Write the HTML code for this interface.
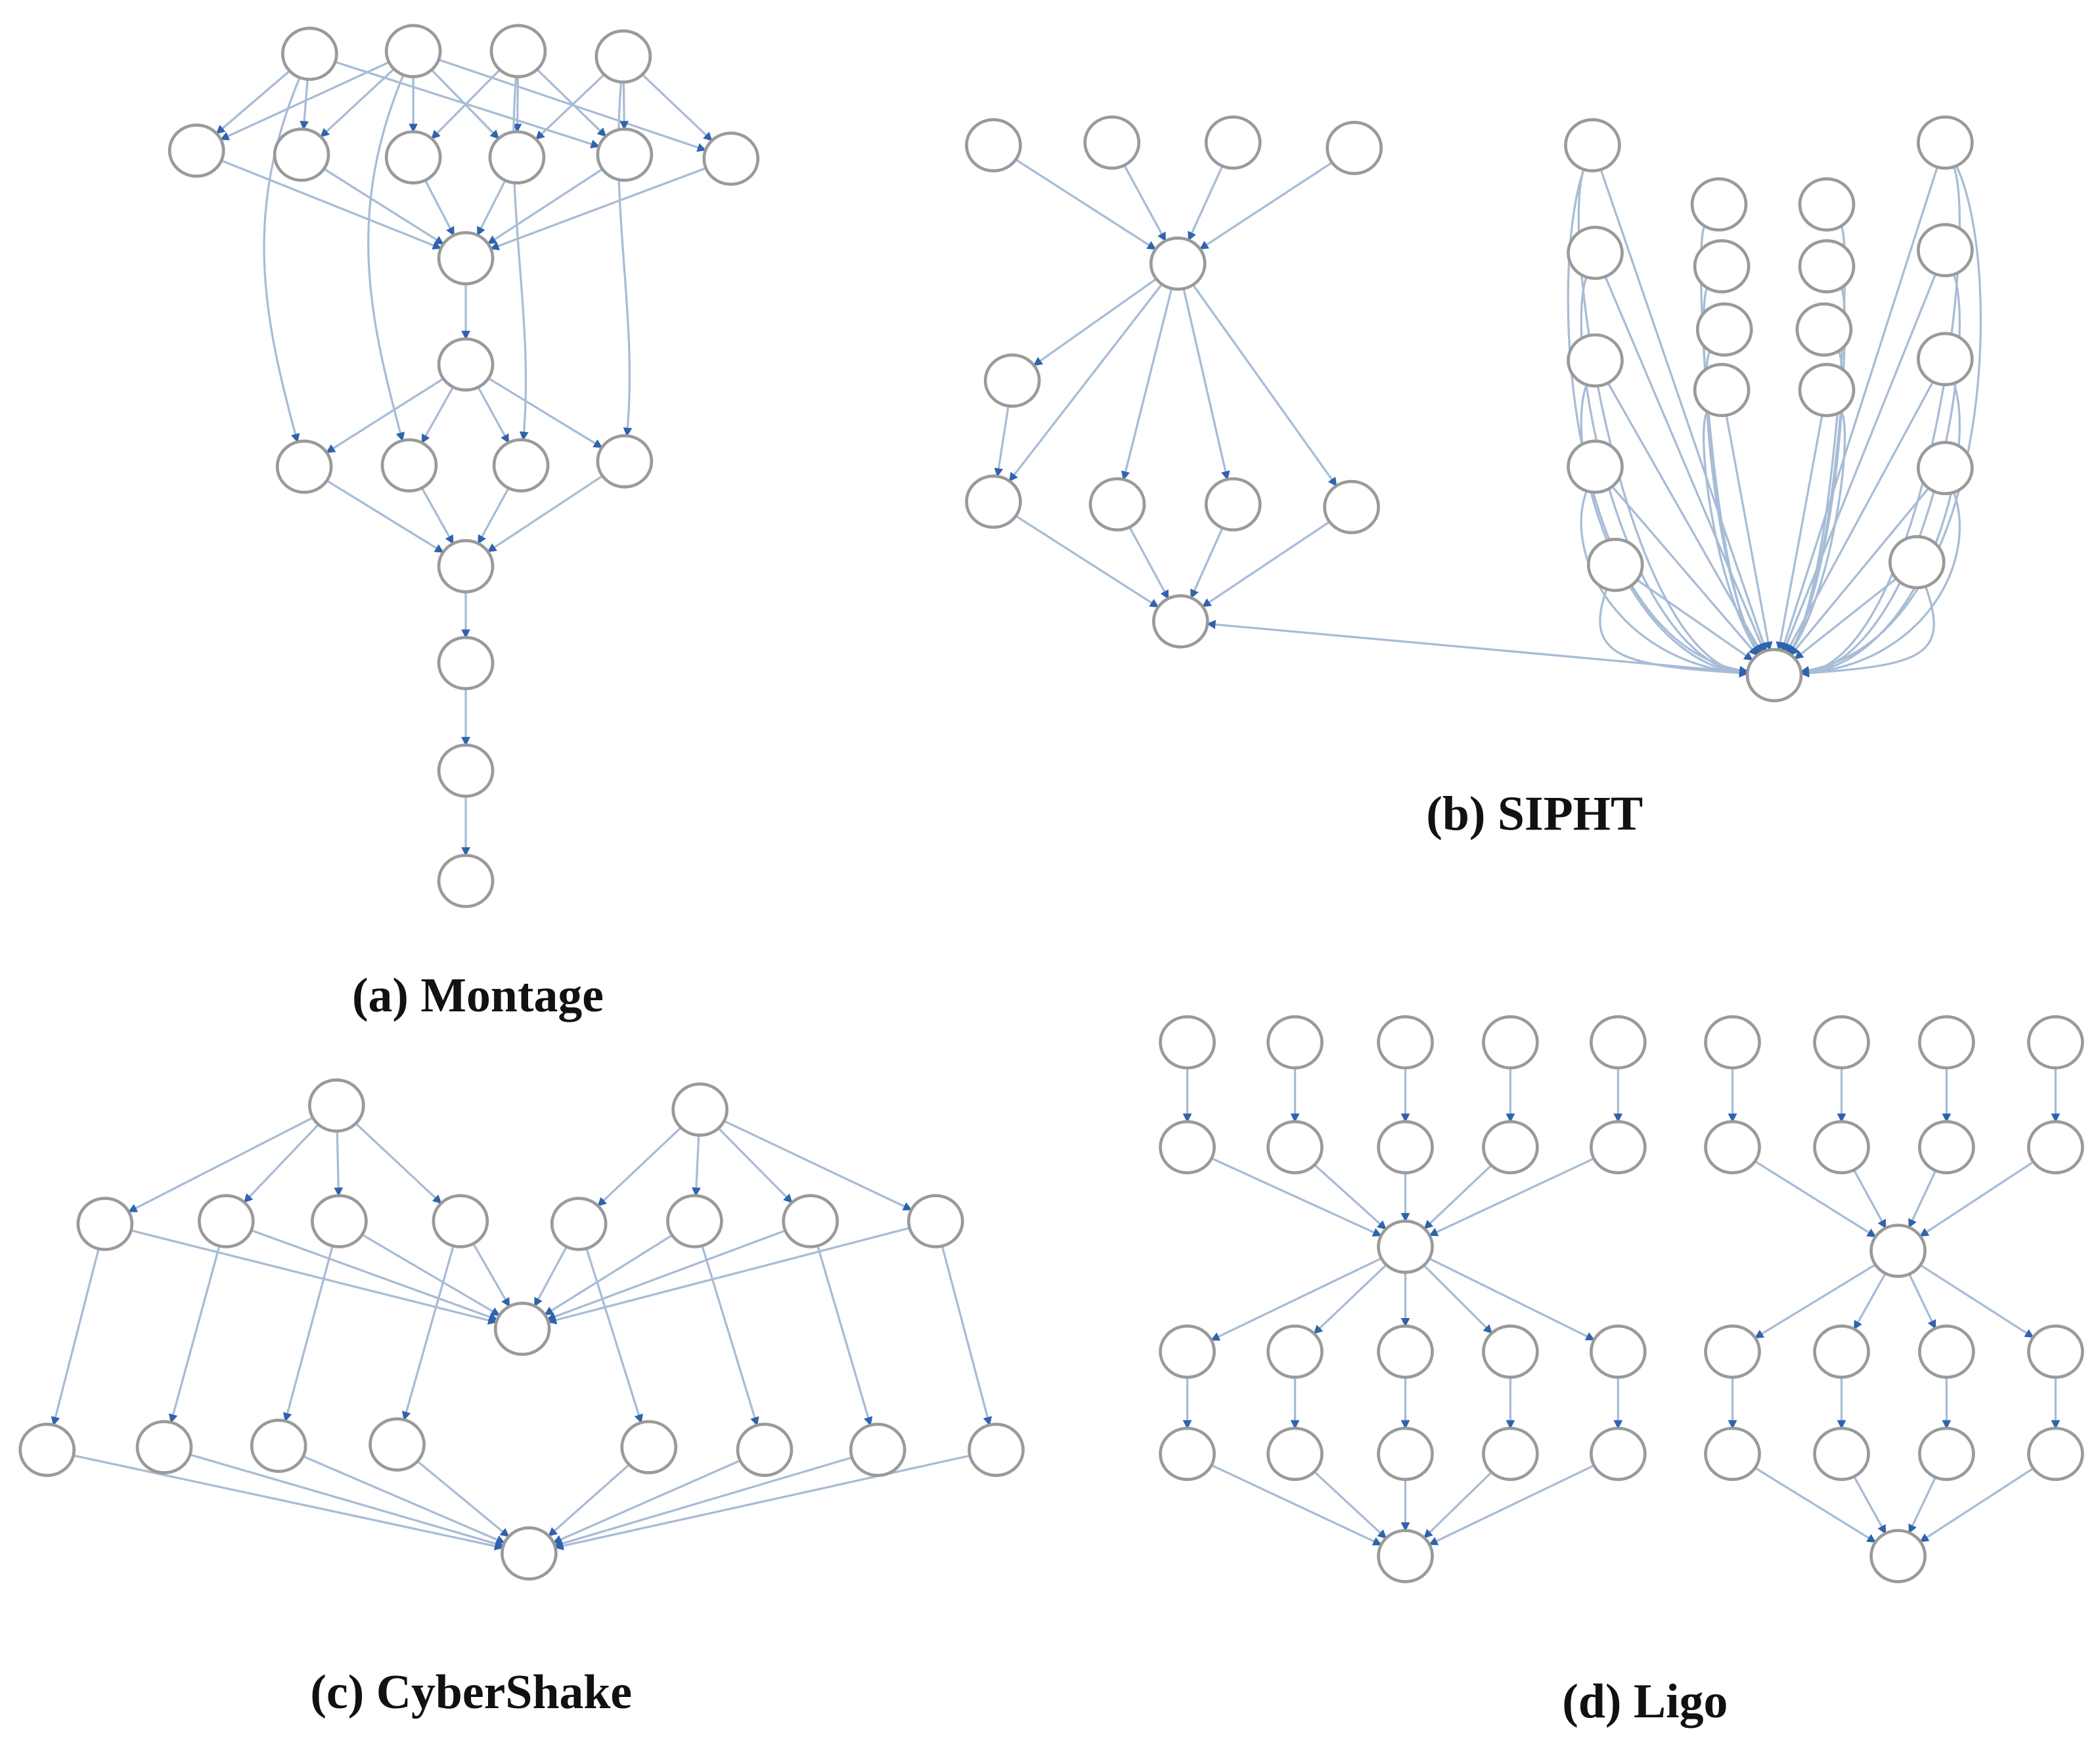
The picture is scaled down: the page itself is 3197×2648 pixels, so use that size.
<!DOCTYPE html>
<html><head><meta charset="utf-8"><style>
html,body{margin:0;padding:0;background:#fff;}
svg{display:block;}
text{font-family:"Liberation Serif",serif;font-weight:bold;fill:#111;}
</style></head><body>
<svg id="s" width="3197" height="2648" viewBox="0 0 1560 1293" preserveAspectRatio="none" xmlns="http://www.w3.org/2000/svg">
<defs><marker id="m" viewBox="0 0 10 10" refX="9" refY="5" markerWidth="4.2" markerHeight="4.2" orient="auto" markerUnits="strokeWidth"><path d="M0,0L10,5L0,10z" fill="#2f63ad"/></marker></defs>
<g id="e"></g><g id="n"></g>
<text x="355" y="752" font-size="36" text-anchor="middle">(a)  Montage</text>
<text x="1140" y="617" font-size="36" text-anchor="middle">(b) SIPHT</text>
<text x="350" y="1270" font-size="36" text-anchor="middle">(c) CyberShake</text>
<text x="1222" y="1277" font-size="36" text-anchor="middle">(d) Ligo</text>
</svg>
<script>
var NS="http://www.w3.org/2000/svg",E=document.getElementById('e'),N=document.getElementById('n');
var RX=20,RY=19;
function node(p){var c=document.createElementNS(NS,'ellipse');c.setAttribute('cx',p[0]);c.setAttribute('cy',p[1]);c.setAttribute('rx',RX);c.setAttribute('ry',RY);c.setAttribute('fill','#fff');c.setAttribute('stroke','#9a9a9a');c.setAttribute('stroke-width','2.3');N.appendChild(c);}
function trim(p,q){var dx=q[0]-p[0],dy=q[1]-p[1];var t=1/Math.sqrt(dx*dx/(RX*RX)+dy*dy/(RY*RY));return [p[0]+dx*t,p[1]+dy*t];}
function path(d){var e=document.createElementNS(NS,'path');e.setAttribute('d',d);e.setAttribute('fill','none');e.setAttribute('stroke','#a7bcd6');e.setAttribute('stroke-width','1.6');e.setAttribute('marker-end','url(#m)');E.appendChild(e);}
function L(a,b){var s=trim(a,b),t=trim(b,a);path('M'+s+'L'+t);}
function C(a,c1,c2,b){var s=trim(a,c1),t=trim(b,c2);path('M'+s+'C'+c1+' '+c2+' '+t);}
var all=[];function P(x,y){var p=[x,y];all.push(p);return p;}
// Montage
var mt=[P(230,40),P(307,38),P(385,38),P(463,42)];
var m2=[P(146,112),P(224,115),P(307,117),P(384,117),P(464,115),P(543,118)];
var m3=P(346,192),m4=P(346,271);
var m5=[P(226,347),P(304,346),P(387,346),P(464,343)];
var m6=P(346,421),m7=P(346,493),m8=P(346,573),m9=P(346,655);
var mc=[[0,1,4],[0,1,2,3,5],[2,3,4],[3,4,5]];
mc.forEach(function(l,i){l.forEach(function(j){L(mt[i],m2[j]);});});
mt.forEach(function(t,i){var b=m5[i];var dx=(i<2?-1:1)*20;C(t,[t[0]+dx-30,t[1]+120],[b[0]+dx-10,b[1]-110],b);});
m2.forEach(function(a){L(a,m3);});L(m3,m4);
m5.forEach(function(a){L(m4,a);L(a,m6);});L(m6,m7);L(m7,m8);L(m8,m9);
// SIPHT left
var st=[P(738,108),P(826,106),P(916,106),P(1006,110)],sc=P(875,196);
st.forEach(function(a){L(a,sc);});
var sa=P(752,283),sr=[P(738,373),P(830,375),P(916,375),P(1004,377)],ss=P(877,462);
L(sc,sa);sr.forEach(function(a){L(sc,a);L(a,ss);});L(sa,sr[0]);
var sk=P(1318,502);L(sk,ss);
var lc=[P(1183,108),P(1185,188),P(1185,268),P(1185,347),P(1200,420)];
var rc=[P(1445,106),P(1445,186),P(1445,267),P(1445,348),P(1424,418)];
var mid=[P(1277,152),P(1357,152),P(1279,198),P(1357,198),P(1281,245),P(1355,245),P(1279,290),P(1357,290)];
lc.forEach(function(a,i){L(a,sk);C(a,[a[0]-25,a[1]+70],[sk[0]-110,495],sk);});
rc.forEach(function(a,i){L(a,sk);C(a,[a[0]+25,a[1]+70],[sk[0]+110,495],sk);});
C(lc[0],[1150,200],[1160,480],sk);C(rc[0],[1490,200],[1480,480],sk);
mid.forEach(function(a,i){var s=(i%2?1:-1);C(a,[a[0]+s*20,a[1]+30],[a[0]+s*5,440],sk);if(i>=6)L(a,sk);});
// CyberShake
var ct=[P(250,822),P(520,825)];
var c2=[P(78,910),P(168,908),P(252,908),P(342,908),P(430,910),P(516,908),P(602,908),P(695,908)];
var cm=P(388,988);
var c3=[P(35,1078),P(122,1076),P(207,1075),P(295,1074),P(482,1076),P(568,1078),P(652,1078),P(740,1078)];
var cb=P(393,1155);
c2.forEach(function(a,i){L(ct[i<4?0:1],a);L(a,cm);L(a,c3[i]);});
c3.forEach(function(a){L(a,cb);});
// Ligo
function ligo(xs,cx,cy){var c=P(cx,cy),b=P(cx,1157);xs.forEach(function(x){var a=P(x,775),r=P(x,853),d=P(x,1005),f=P(x,1081);L(a,r);L(r,c);L(c,d);L(d,f);L(f,b);});}
ligo([882,962,1044,1122,1202],1044,927);
ligo([1287,1368,1446,1527],1410,930);
all.forEach(node);
</script>
</body></html>
